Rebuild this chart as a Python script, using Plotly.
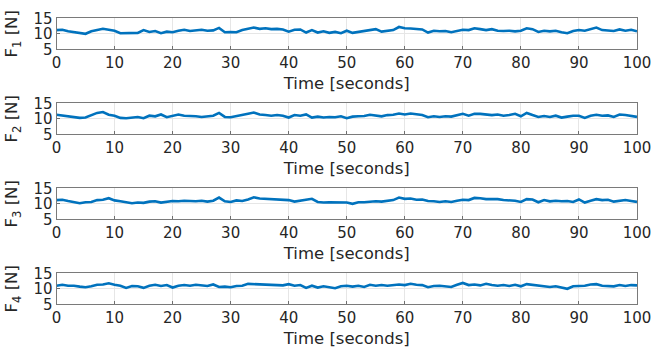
import plotly.graph_objects as go

# Time base (seconds) and measured forces (N) for four channels
time_s = list(range(0, 101))

force_f1 = [
    11.2, 11.3, 10.8, 10.5, 10.2, 10.0, 10.8, 11.2, 11.6, 11.3,
    11.0, 10.2, 10.2, 10.4, 10.3, 11.2, 10.6, 10.9, 10.2, 10.7,
    10.5, 11.0, 11.3, 10.9, 11.2, 11.3, 11.0, 11.1, 11.9, 10.5,
    10.6, 10.5, 11.2, 11.5, 12.0, 11.6, 11.8, 11.5, 11.6, 11.4,
    10.7, 11.3, 11.4, 10.4, 11.2, 10.4, 10.8, 10.3, 10.6, 10.2,
    11.0, 10.3, 10.6, 10.8, 11.0, 11.5, 10.7, 11.0, 11.2, 12.2,
    11.8, 11.7, 11.6, 11.4, 10.4, 11.0, 10.8, 10.9, 10.5, 11.0,
    11.3, 11.2, 11.8, 11.5, 11.2, 11.5, 11.0, 10.9, 11.0, 10.8,
    11.0, 11.8, 11.5, 10.6, 11.0, 10.8, 11.0, 10.5, 10.2, 10.9,
    11.2, 11.0, 11.6, 12.0, 11.2, 11.1, 10.9, 11.4, 11.0, 11.3,
    10.8,
]

force_f2 = [
    11.3, 11.0, 10.9, 10.6, 10.3, 10.4, 11.2, 11.9, 12.2, 11.3,
    11.0, 10.3, 10.2, 10.4, 10.6, 10.2, 11.0, 10.8, 11.4, 10.5,
    10.9, 11.4, 11.0, 11.0, 10.8, 10.6, 10.9, 11.0, 11.9, 10.6,
    10.5, 10.8, 11.2, 11.6, 12.0, 11.4, 11.2, 11.0, 11.2, 11.0,
    10.4, 11.2, 11.0, 11.4, 10.4, 10.7, 10.4, 10.6, 10.5, 10.8,
    10.2, 10.7, 10.8, 10.9, 11.3, 11.0, 10.8, 11.2, 11.3, 11.7,
    11.4, 11.7, 11.5, 11.2, 10.5, 10.8, 10.6, 10.8, 10.7, 11.1,
    11.6, 11.0, 11.6, 11.6, 11.5, 11.2, 11.4, 11.0, 11.2, 11.6,
    10.8, 11.9, 11.2, 10.6, 10.9, 10.6, 11.0, 10.4, 10.7, 11.0,
    11.0, 10.3, 11.0, 11.3, 11.0, 11.1, 10.6, 11.4, 11.2, 10.9,
    10.6,
]

force_f3 = [
    11.2, 11.3, 10.9, 10.6, 10.2, 10.5, 10.6, 11.2, 11.3, 11.8,
    11.1, 10.8, 10.5, 10.2, 10.4, 10.3, 10.7, 10.8, 10.4, 10.6,
    10.9, 10.8, 11.0, 10.9, 10.8, 11.0, 10.7, 11.0, 12.0, 10.8,
    10.6, 11.1, 10.9, 11.4, 12.1, 11.7, 11.6, 11.6, 11.6, 11.5,
    11.2, 10.7, 11.0, 11.3, 11.6, 10.6, 10.4, 10.5, 10.4, 10.5,
    10.4, 10.0, 10.5, 10.5, 10.7, 10.8, 10.7, 11.0, 11.2, 12.0,
    11.6, 11.7, 11.3, 11.4, 10.9, 10.8, 10.6, 10.8, 10.6, 11.0,
    11.3, 11.2, 11.9, 11.8, 11.5, 11.5, 11.5, 11.2, 11.2, 11.0,
    10.6, 11.5, 11.4, 10.5, 11.2, 10.8, 11.0, 10.8, 10.9, 10.6,
    11.4, 10.4, 11.0, 11.5, 11.2, 11.3, 10.7, 11.0, 11.2, 10.9,
    10.6,
]

force_f4 = [
    11.0, 11.3, 11.0, 11.0, 10.7, 10.5, 10.8, 11.3, 11.4, 11.8,
    11.3, 11.0, 10.3, 10.9, 10.8, 10.3, 11.0, 11.3, 10.9, 11.2,
    10.4, 11.0, 11.2, 11.0, 11.3, 11.0, 10.9, 11.4, 10.6, 10.7,
    10.5, 10.9, 11.0, 11.6, 11.5, 11.4, 11.5, 11.4, 11.2, 11.1,
    11.5, 11.0, 11.2, 10.3, 11.0, 10.4, 10.8, 10.6, 10.2, 10.8,
    11.0, 10.7, 11.0, 10.6, 11.3, 11.0, 11.2, 11.0, 11.3, 11.4,
    11.2, 11.6, 11.3, 11.2, 10.5, 10.9, 11.0, 10.7, 10.6, 11.3,
    11.9, 11.2, 11.4, 11.1, 11.6, 11.2, 11.0, 11.2, 10.9, 11.3,
    10.8, 11.5, 11.3, 11.0, 10.8, 10.6, 10.8, 10.3, 10.0, 10.8,
    10.9, 11.0, 11.4, 11.5, 11.0, 11.0, 10.8, 11.2, 10.9, 11.2,
    11.1,
]

series = [force_f1, force_f2, force_f3, force_f4]
y_titles = ["F<sub>1</sub> [N]", "F<sub>2</sub> [N]", "F<sub>3</sub> [N]", "F<sub>4</sub> [N]"]
x_ticks = [0, 10, 20, 30, 40, 50, 60, 70, 80, 90, 100]
y_ticks = [5, 10, 15]

W, H = 654, 351
left_px, right_px = 56.5, 637.0
top_px, panel_h, pitch = 18.3, 31.0, 85.0

FONT = "DejaVu Sans"
TXT = "#262626"
LINE = "#0072BD"

fig = go.Figure()
layout = dict(
    width=W, height=H,
    margin=dict(l=0, r=0, t=0, b=0, autoexpand=False),
    paper_bgcolor="white", plot_bgcolor="white",
    showlegend=False,
    font=dict(family=FONT, size=15, color=TXT),
)

for i, vals in enumerate(series):
    n = "" if i == 0 else str(i + 1)
    fig.add_trace(go.Scatter(
        x=time_s, y=vals, mode="lines",
        line=dict(color=LINE, width=2.6),
        xaxis="x" + n, yaxis="y" + n,
    ))
    top = top_px + i * pitch
    bot = top + panel_h
    ydom = [1 - bot / H, 1 - top / H]
    xdom = [left_px / W, right_px / W]
    layout["xaxis" + n] = dict(
        domain=xdom, anchor="y" + n, range=[0, 100], automargin=False,
        tickvals=x_ticks, ticks="inside", ticklen=3, tickcolor="#6e6e6e",
        showline=True, linecolor="#7a7a7a", linewidth=1, mirror=True,
        showgrid=True, gridcolor="#e6e6e6", gridwidth=1, zeroline=False,
        tickfont=dict(family=FONT, size=15, color=TXT),
        title=dict(text="Time [seconds]", font=dict(family=FONT, size=16.5, color=TXT), standoff=6),
        fixedrange=True,
    )
    layout["yaxis" + n] = dict(
        domain=ydom, anchor="x" + n, range=[5, 15], automargin=False,
        tickvals=y_ticks, ticks="inside", ticklen=3, tickcolor="#6e6e6e",
        showline=True, linecolor="#7a7a7a", linewidth=1, mirror=True,
        showgrid=True, gridcolor="#e6e6e6", gridwidth=1, zeroline=False,
        tickfont=dict(family=FONT, size=15, color=TXT),
        title=dict(text=y_titles[i], font=dict(family=FONT, size=16.5, color=TXT), standoff=11),
        fixedrange=True,
    )

fig.update_layout(**layout)
fig.write_html("out.html")
